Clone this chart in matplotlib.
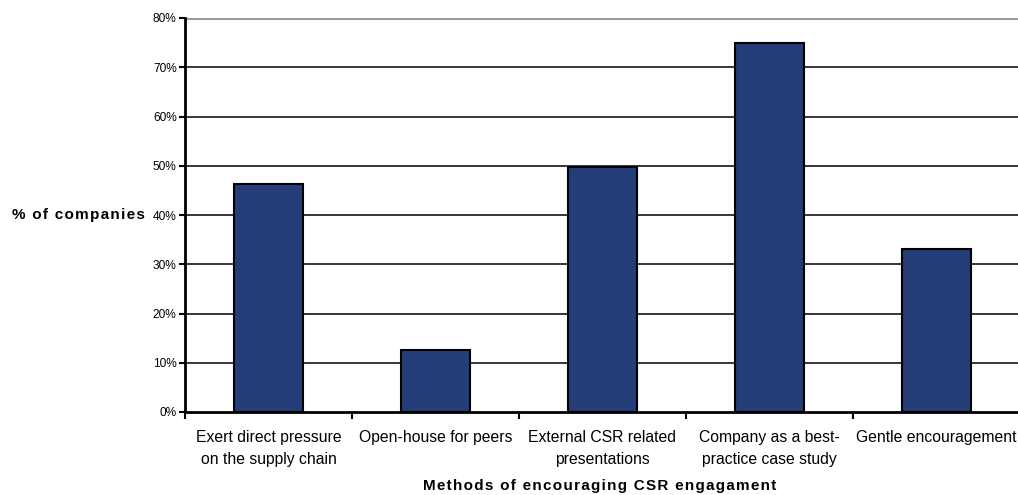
import matplotlib.pyplot as plt
from matplotlib.ticker import FuncFormatter

methods = [
    "Exert direct pressure\non the supply chain",
    "Open-house for peers",
    "External CSR related\npresentations",
    "Company as a best-\npractice case study",
    "Gentle encouragement",
]
share = [0.463, 0.126, 0.498, 0.75, 0.33]

BAR = "#233E78"
FONT = ["Liberation Sans", "DejaVu Sans"]


def spaced(s):
    # widen the bold axis titles a little with hair spaces
    return "\u200a".join(s)


fig = plt.figure(figsize=(10.18, 4.95), dpi=100)
ax = fig.add_axes([185 / 1018, 83 / 495, 835 / 1018, 394 / 495])

centers = [i + 0.5 for i in range(len(methods))]
ax.bar(centers, share, width=0.41, color=BAR, edgecolor="black", linewidth=1.5, zorder=3)

ax.set_xlim(0, len(methods))
ax.set_ylim(0, 0.8)
ax.set_yticks([i / 10 for i in range(9)])
ax.yaxis.set_major_formatter(FuncFormatter(lambda v, _: f"{v * 100:.0f}%"))
for y in [i / 10 for i in range(1, 8)]:
    ax.axhline(y, color="black", linewidth=1.1, zorder=1)
ax.axhline(0.8, color="#9a9a9a", linewidth=2.2, zorder=1)

# boundary ticks between categories, labels centred under each bar
ax.set_xticks(range(len(methods) + 1))
ax.set_xticklabels([])
ax.set_xticks(centers, minor=True)
ax.set_xticklabels(methods, minor=True, fontsize=11.3, family=FONT, linespacing=1.6)
ax.tick_params(axis="x", which="major", length=5, width=1.5, direction="out")
ax.tick_params(axis="x", which="minor", length=0, pad=13)
ax.tick_params(axis="y", length=4, width=1.5, direction="out", labelsize=8.6, pad=2)
for lab in ax.get_yticklabels():
    lab.set_family(FONT)

for side in ["top", "right"]:
    ax.spines[side].set_visible(False)
ax.spines["left"].set_linewidth(2)
ax.spines["bottom"].set_linewidth(2)

fig.text(145 / 1018, 1 - 215 / 495, spaced("% of companies"), ha="right", va="center",
         fontsize=11, fontweight="bold", family=FONT)
fig.text(600 / 1018, 1 - 486 / 495, spaced("Methods of encouraging CSR engagament"),
         ha="center", va="center", fontsize=11, fontweight="bold", family=FONT)

fig.savefig("out.png", dpi=100)
